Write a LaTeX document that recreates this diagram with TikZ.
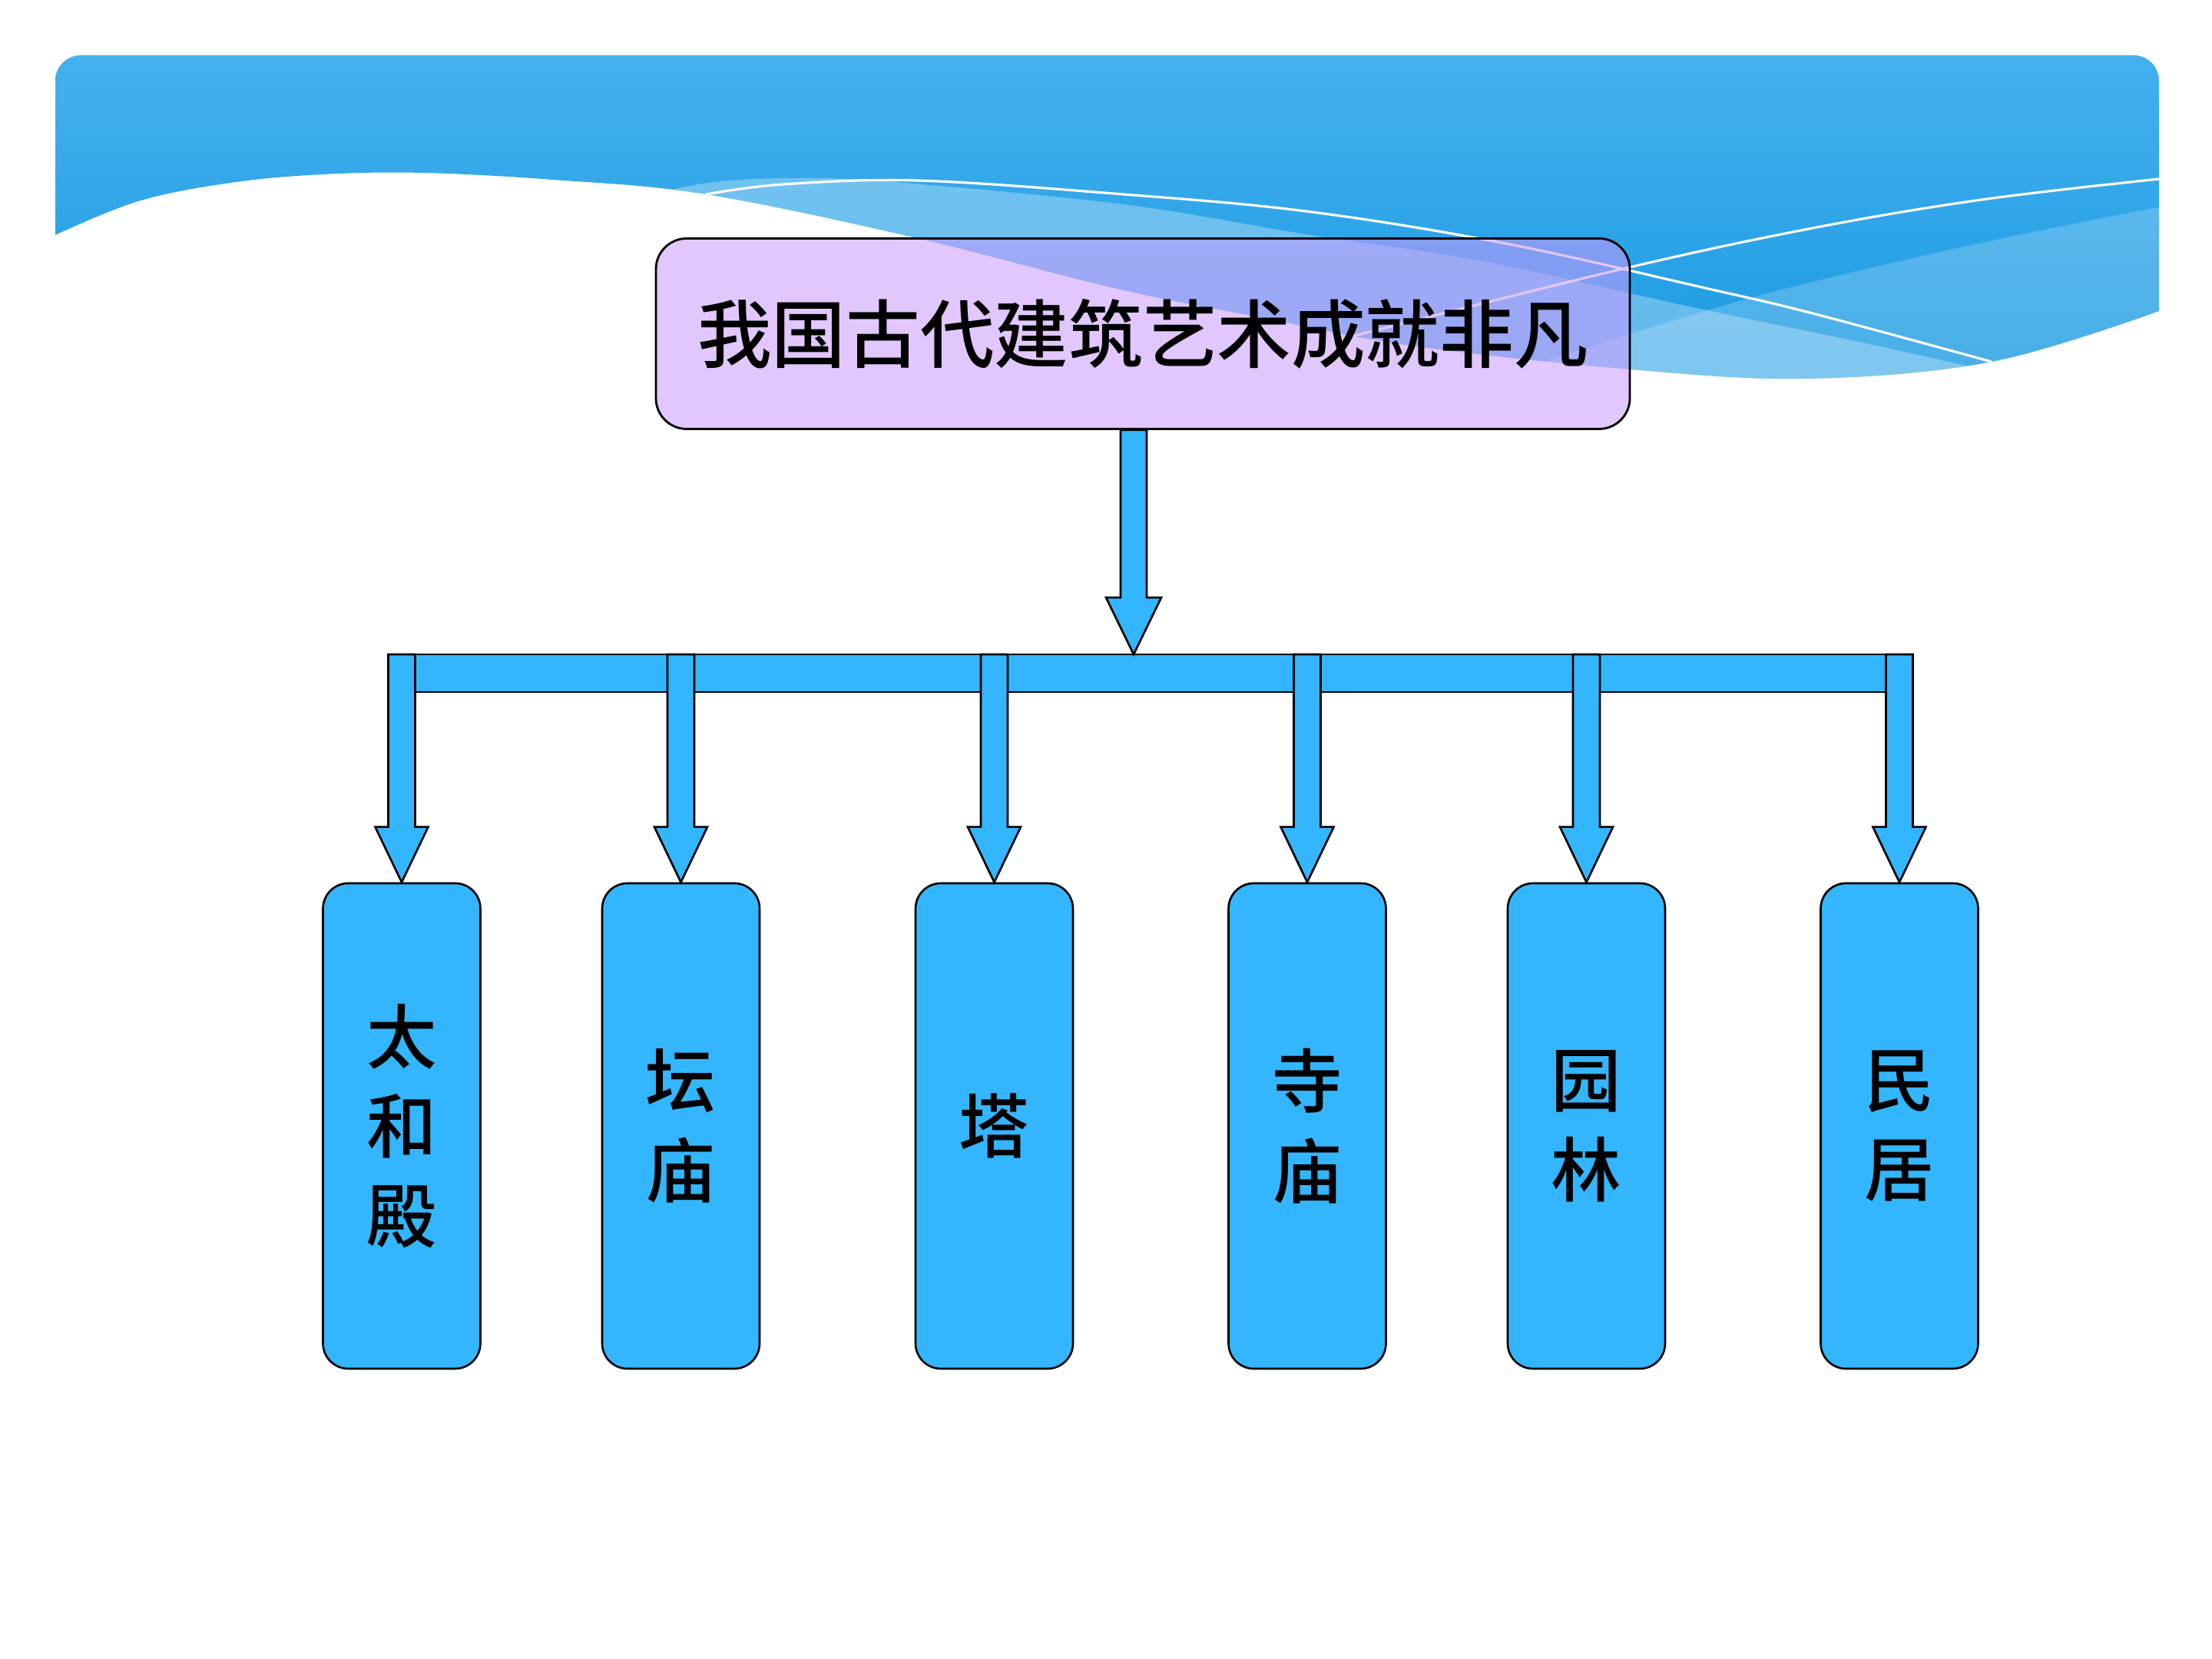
\documentclass[tikz,border=0pt]{standalone}
\usepackage{fontspec}
\newfontfamily\cjk[BoldFont={Noto Sans CJK SC Medium}]{Noto Sans CJK SC}
\usetikzlibrary{calc}
\definecolor{hdtop}{RGB}{69,177,238}
\definecolor{hdbot}{RGB}{26,154,226}
\definecolor{boxblue}{RGB}{51,182,253}
\definecolor{goalfill}{RGB}{203,153,255}
% lower edge of the header band
\newcommand{\hdedge}{plot[smooth, tension=0.6] coordinates {(0.72,-3.06) (1.8,-2.62) (3.0,-2.38) (4.2,-2.27) (5.5,-2.25) (7.2,-2.34) (9.19,-2.53) (11.94,-3.10) (14.5,-3.75) (16.5,-4.15) (18.37,-4.50) (21.12,-4.80) (23.51,-4.93) (25.93,-4.71) (28.11,-4.05)}}
\tikzset{
  flow/.style={draw=black, line width=0.75pt, fill=boxblue, line join=miter},
  wline/.style={white, line width=0.9pt},
  goal/.style={draw, line width=0.8pt, fill=goalfill, fill opacity=0.54, text opacity=1,
    rounded corners=0.4cm, minimum width=12.68cm, minimum height=2.48cm, inner sep=0pt,
    font=\cjk\bfseries\fontsize{27.5}{33}\selectfont},
  leaf/.style={draw, line width=0.75pt, fill=boxblue, rounded corners=0.33cm,
    minimum width=2.05cm, minimum height=6.32cm, inner sep=0pt, align=center,
    font=\cjk\bfseries\fontsize{26}{33.2}\selectfont}
}
\begin{document}
\begin{tikzpicture}
  \fill[white] (0,0) rectangle (28.8,-21.6);
  \useasboundingbox (0,0) rectangle (28.8,-21.6);
  % header band with waves
  \shade[top color=hdtop, bottom color=hdbot] \hdedge -- (28.11,-1.05)
    arc[start angle=0, end angle=90, radius=0.33] -- (1.05,-0.72)
    arc[start angle=90, end angle=180, radius=0.33] -- cycle;
  \begin{scope}
    \clip \hdedge -- (28.11,0) -- (0.72,0) -- cycle;
    \fill[white, fill opacity=0.3] plot[smooth, tension=0.6] coordinates {(8.2,-2.6) (9.3,-2.37) (10.65,-2.32) (12.0,-2.40) (14.7,-2.67) (17.0,-3.05) (19.29,-3.40) (22.04,-4.00) (24.43,-4.50) (26.2,-4.9)} -- (26.2,-6) -- (8.2,-6) -- cycle;
    \fill[white, fill opacity=0.2] plot[smooth, tension=0.6] coordinates {(28.4,-2.64) (25.9,-3.14) (23.6,-3.67) (22.2,-4.05) (19.8,-4.8)} -- (19.8,-6) -- (28.4,-6) -- cycle;
  \end{scope}
  \draw[wline] plot[smooth, tension=0.6] coordinates {(9.19,-2.53) (10.2,-2.40) (11.94,-2.35) (14.5,-2.52) (17.0,-2.75) (19.6,-3.17) (22.2,-3.75) (23.6,-4.08) (25.93,-4.71)};
  \draw[wline] plot[smooth, tension=0.6] coordinates {(28.11,-2.33) (25.8,-2.6) (23.6,-2.97) (21.13,-3.50) (17.6,-4.38)};

  % title
  \node[goal] (goal) at (14.88,-4.345) {我国古代建筑艺术成就非凡};

  % main arrow and rail
  \coordinate (hub) at (14.76,-8.52);
  \draw[flow] (5.055,-8.52) rectangle (24.905,-9.01);
  \draw[flow] ($(goal.south -| hub)+(-0.17,0)$) -- ($(hub)+(-0.17,0.74)$) -- ($(hub)+(-0.36,0.74)$)
    -- (hub) -- ($(hub)+(0.36,0.74)$) -- ($(hub)+(0.17,0.74)$) -- ($(goal.south -| hub)+(0.17,0)$) -- cycle;

  % six branches
  \foreach \x/\lab [count=\i] in {5.23/{太\\和\\殿}, 8.865/{坛\\庙}, 12.945/{塔}, 17.02/{寺\\庙}, 20.655/{园\\林}, 24.73/{民\\居}} {
    \node[leaf] (leaf\i) at (\x,-14.66) {\lab};
    \draw[flow] (leaf\i.north) -- ($(leaf\i.north)+(-0.345,0.72)$) -- ($(leaf\i.north)+(-0.175,0.72)$)
      -- ($(leaf\i.north |- hub)+(-0.175,0)$) -- ($(leaf\i.north |- hub)+(0.175,0)$)
      -- ($(leaf\i.north)+(0.175,0.72)$) -- ($(leaf\i.north)+(0.345,0.72)$) -- cycle;
  }
\end{tikzpicture}
\end{document}
